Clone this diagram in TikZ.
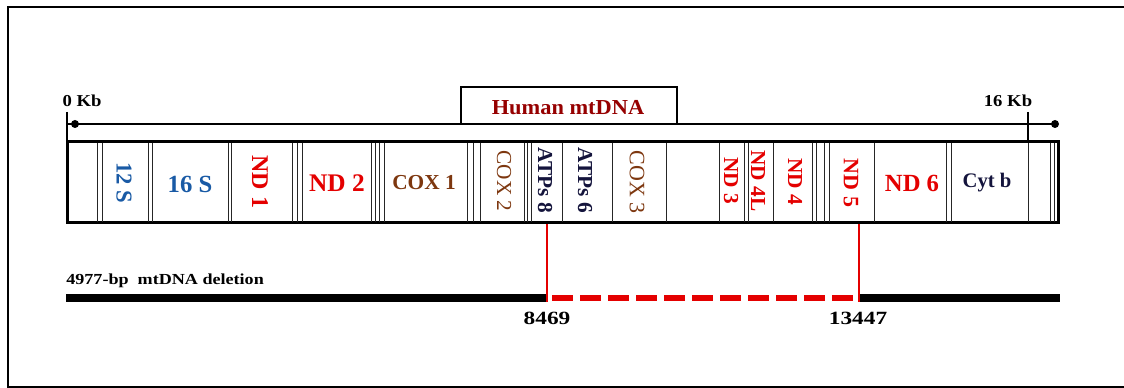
\documentclass[tikz,border=0pt]{standalone}
\usepackage{fontspec}
\setmainfont{Liberation Serif}
\definecolor{gblue}{RGB}{25,90,165}
\definecolor{gred}{RGB}{228,0,0}
\definecolor{gbrown}{RGB}{125,55,15}
\definecolor{gnavy}{RGB}{20,20,60}
\definecolor{hred}{RGB}{150,0,0}
\newcommand{\fsz}[1]{\fontsize{#1}{#1}\selectfont}
\begin{document}
\begin{tikzpicture}[x=0.75pt,y=-0.75pt,
  glabel/.style={inner sep=0pt, font=\bfseries},
  vlabel/.style={inner sep=0pt, rotate=-90},
  divider/.style={line width=0.6pt, black!85},
  frame/.style={line width=1.5pt},
  genome/.style={line width=2.25pt},
  axisline/.style={line width=1.5pt},
  tick/.style={line width=2.2pt},
  delbar/.style={line width=5.25pt},
  deldash/.style={gred, line width=4.5pt, dash pattern=on 15.75pt off 5.25pt},
  bp/.style={gred, line width=1.2pt}]
\useasboundingbox (0,0) rectangle (1124,388);
% outer frame (cut at the right)
\draw[frame] (1130,7) -- (8,7) -- (8,387) -- (1130,387);

% axis
\coordinate (a0) at (67,124);
\coordinate (a1) at (1055,124);
\draw[axisline] (a0) -- (a1);
\fill (75,124) circle (3pt);
\fill (a1) circle (3pt);
\draw[tick] (67,112) -- (67,142);
\draw[tick] (1028,112) -- (1028,142);
\node[glabel, anchor=base, xscale=1.12, font=\bfseries\fsz{12.5}] (k0) at (82,107) {0 Kb};
\node[glabel, anchor=base, xscale=1.12, font=\bfseries\fsz{12.5}] (k16) at (1008,107) {16 Kb};

% title box
\draw[line width=1.5pt, fill=white] (461,87) rectangle (677,124);
\node[glabel, hred, xscale=1.05, font=\bfseries\fsz{16}] (title) at (568,108) {Human mtDNA};

% genome box
\draw[genome] (67,142) rectangle (1058,223);
\foreach \x in {97,102,148,152,228,231,292,297,302,371,375,379,384,467,473,480,524,527,531,562,612,666,719,744,748,773,812,816,824,829,874,946,951,1050,1054}
  \draw[divider] (\x,143) -- (\x,222);
\draw[divider] (1028,143) -- (1028,222);

% gene labels
\node[vlabel, gblue, font=\bfseries\fsz{17}] (g12s) at (124,183) {12 S};
\node[glabel, gblue, font=\bfseries\fsz{18.5}] (g16s) at (190,184) {16 S};
\node[vlabel, gred, font=\bfseries\fsz{18}] (nd1) at (260,182) {ND 1};
\node[glabel, gred, font=\bfseries\fsz{19}] (nd2) at (337,183) {ND 2};
\node[glabel, gbrown, font=\bfseries\fsz{16}] (cox1) at (424,183) {COX 1};
\node[vlabel, gbrown, font=\fsz{16}] (cox2) at (504,181) {COX 2};
\node[vlabel, gnavy, font=\bfseries\fsz{16}] (atp8) at (545,180) {ATPs 8};
\node[vlabel, gnavy, font=\bfseries\fsz{16}] (atp6) at (585,180) {ATPs 6};
\node[vlabel, gbrown, font=\fsz{16.5}] (cox3) at (637,182) {COX 3};
\node[vlabel, gred, font=\bfseries\fsz{16}] (nd3) at (731,181) {ND 3};
\node[vlabel, gred, font=\bfseries\fsz{16}] (nd4l) at (758,181) {ND 4L};
\node[vlabel, gred, font=\bfseries\fsz{16}] (nd4) at (795,182) {ND 4};
\node[vlabel, gred, font=\bfseries\fsz{16.5}] (nd5) at (851,183) {ND 5};
\node[glabel, gred, font=\bfseries\fsz{18.5}] (nd6) at (912,183) {ND 6};
\node[glabel, gnavy, font=\bfseries\fsz{15.5}] (cytb) at (987,183) {Cyt b};

% deletion
\node[glabel, anchor=base west, xscale=1.18, font=\bfseries\fsz{11.5}] (dellbl) at (66,285) {4977-bp\ \ mtDNA deletion};
\coordinate (d0) at (66,298);
\coordinate (b1) at (547,298);
\coordinate (b2) at (859,298);
\coordinate (d1) at (1060,298);
\coordinate (t1) at (547,224);
\coordinate (t2) at (859,224);
\draw[delbar] (d0) -- (b1);
\draw[delbar] (b2) -- (d1);
\draw[deldash] (552,298) -- (854,298);
\draw[bp] (t1) -- (547,302);
\draw[bp] (t2) -- (859,302);
\node[glabel, xscale=1.25, font=\bfseries\fsz{14}] (p1) at (547,318) {8469};
\node[glabel, xscale=1.25, font=\bfseries\fsz{14}] (p2) at (858,318) {13447};
\end{tikzpicture}
\end{document}
